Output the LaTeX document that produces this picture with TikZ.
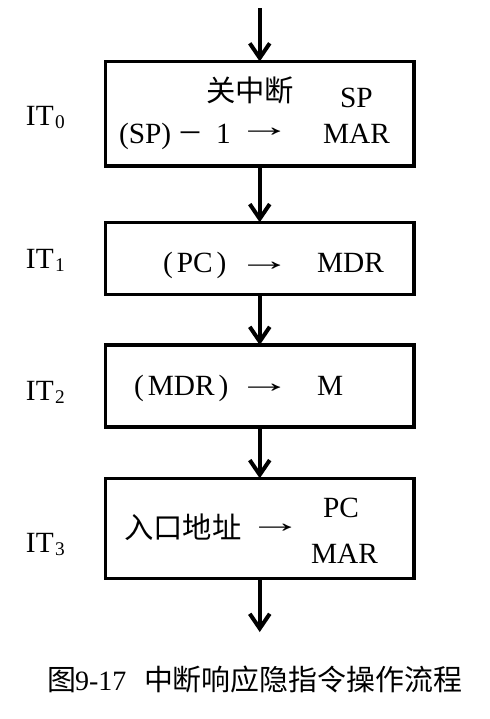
\documentclass[tikz,border=0pt]{standalone}
\usepackage{fontspec}
\setmainfont{Liberation Serif}
\newfontfamily\cjk{Noto Sans CJK SC}
\usetikzlibrary{arrows.meta}
\begin{document}
\begin{tikzpicture}[x=0.75pt,y=-0.75pt,
  box/.style={draw, line width=2.7pt, minimum width=231.4pt, inner sep=0pt, outer sep=0pt},
  arr/.style={line width=3pt, -{Straight Barb[length=11pt,width=15pt]}},
  lbl/.style={inner sep=0pt, outer sep=0pt, anchor=base west, font=\fontsize{22}{26}\selectfont},
  hz/.style={inner sep=0pt, outer sep=0pt, anchor=base west, font=\fontsize{22}{26}\selectfont\cjk},
  rarr/.style={inner sep=0pt, outer sep=0pt, anchor=west, font=\fontsize{22}{26}\selectfont},
  captext/.style={inner sep=0pt, outer sep=0pt, anchor=base west, font=\fontsize{21.7}{26}\selectfont\cjk}]
\useasboundingbox (0,0) rectangle (490,719);

% boxes
\node[box, minimum height=78.4pt] (b0) at (259.75,113.75) {};
\node[box, minimum height=54pt]   (b1) at (259.75,258.3) {};
\node[box, minimum height=61.3pt] (b2) at (259.75,385.9) {};
\node[box, minimum height=75pt]   (b3) at (259.75,528.3) {};

% connectors
\coordinate (top) at (259.75,8);
\coordinate (bot) at (259.75,632);
\draw[arr] (top) -- (b0.north);
\draw[arr] (b0.south) -- (b1.north);
\draw[arr] (b1.south) -- (b2.north);
\draw[arr] (b2.south) -- (b3.north);
\draw[arr] (b3.south) -- (bot);

% step labels
\node[lbl] (it0) at (26,125) {IT\hspace{1pt}\raisebox{-2.25pt}{\fontsize{14.5}{15}\selectfont 0}};
\node[lbl] (it1) at (26,268) {IT\hspace{1pt}\raisebox{-2.25pt}{\fontsize{14.5}{15}\selectfont 1}};
\node[lbl] (it2) at (26,400) {IT\hspace{1pt}\raisebox{-2.25pt}{\fontsize{14.5}{15}\selectfont 2}};
\node[lbl] (it3) at (26,552) {IT\hspace{1pt}\raisebox{-2.25pt}{\fontsize{14.5}{15}\selectfont 3}};

% box 0
\node[hz]  (g0) at (206,101) {关中断};
\node[lbl] (sp0) at (340,107) {SP};
\node[lbl] (sp1) at (119,143) {(SP)};
\node[lbl, font=\fontsize{19.5}{22}\selectfont\cjk] (mn) at (177,142) {－};
\node[lbl] (one) at (216,143) {1};
\node[rarr] (a0) at (237,132) {\scalebox{1.85}[1]{→}};
\node[lbl] (mar0) at (323,143) {MAR};

% box 1
\node[lbl] (pc1) at (163,272) {(\hspace{3pt}PC\hspace{3pt})};
\node[rarr] (a1) at (237,266.7) {\scalebox{1.85}[1]{→}};
\node[lbl] (mdr1) at (317,272) {MDR};

% box 2
\node[lbl] (mdr2) at (134,395) {(\hspace{3pt}MDR\hspace{3pt})};
\node[rarr] (a2) at (237,388) {\scalebox{1.85}[1]{→}};
\node[lbl] (m2) at (317,395) {M};

% box 3
\node[hz]  (g3) at (124,538) {入口地址};
\node[rarr] (a3) at (248,528) {\scalebox{1.85}[1]{→}};
\node[lbl] (pc3) at (323,517) {PC};
\node[lbl] (mar3) at (311,563) {MAR};

% caption
\node[captext] (c1) at (47,690) {图};
\node[lbl, font=\fontsize{21}{26}\selectfont] (c2) at (75,690) {9-17};
\node[captext] (c3) at (144,690) {中断响应隐指令操作流程};
\end{tikzpicture}
\end{document}
